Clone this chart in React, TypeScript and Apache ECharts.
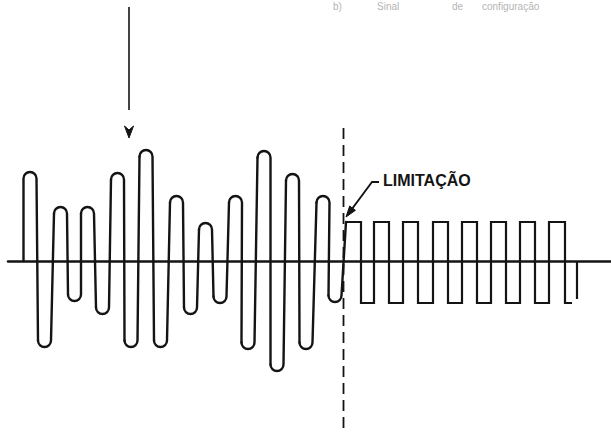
import React, { useEffect, useRef } from "react";
import * as echarts from "echarts";

// Modulated wave: centre x of each half-cycle loop and its peak amplitude (baseline = 0)
const peakX = [30, 44.5, 60.5, 74.5, 87.5, 102.5, 117.5, 131, 146, 160.5, 176.5, 190.5, 205.5, 220, 235.5, 248, 264, 277, 292.5, 306, 323, 335];
const peakAmp = [89, -86, 54, -40, 54, -53, 88, -86, 111, -86, 65, -53, 38, -42, 65, -88, 110, -110, 87, -88, 65, -41];

// Limited (clipped) wave: edge positions and the level after each edge
const limitEdges = [346, 361, 374, 389, 403, 418, 433, 448, 462, 477, 491, 506, 520, 535, 549, 565, 572];
const limitLevels = [39, -42, 39, -42, 39, -42, 39, -42, 39, -42, 39, -42, 39, -42, 39, -42, -42];

// trailing stub after the limited wave
const tailX = [577, 577];
const tailY = [0, -38];

// dashed divider
const dividerX = [343.5, 343.5];
const dividerY = [133, -169];

// marker arrow above the wave
const markerX = 129;
const markerY = [254, 151];
const markerTipY = 123;

const labelText = "LIMITAÇÃO";
const captionWords = ["b)", "Sinal", "de", "configuração"];
const captionX = [333, 377, 452, 482];

const INK = "#141414";
const R = 6.5;

export default function App() {
  const ref = useRef<HTMLDivElement>(null);

  useEffect(() => {
    if (!ref.current) return;
    const chart = echarts.init(ref.current, undefined, { renderer: "svg" });

    const renderItem = (params: any, api: any) => {
      const i = params.dataIndex;
      const [px, py] = api.coord([peakX[i], peakAmp[i]]);
      const up = peakAmp[i] > 0;
      const cy = up ? py + R : py - R;
      let d = "";
      if (i === 0) {
        const by = api.coord([peakX[i], 0])[1];
        d += `M${px - R} ${by} L${px - R} ${cy} `;
      } else {
        d += `M${px - R} ${cy} `;
      }
      d += `A${R} ${R} 0 0 ${up ? 1 : 0} ${px + R} ${cy} `;
      let nx: number, ny: number;
      if (i < peakX.length - 1) {
        const q = api.coord([peakX[i + 1], peakAmp[i + 1]]);
        const nup = peakAmp[i + 1] > 0;
        nx = q[0] - R;
        ny = nup ? q[1] + R : q[1] - R;
      } else {
        const q = api.coord([limitEdges[0], limitLevels[0]]);
        nx = q[0];
        ny = q[1];
      }
      d += `L${nx} ${ny}`;
      return {
        type: "path",
        shape: { pathData: d },
        style: { fill: "none", stroke: INK, lineWidth: 2.4, lineJoin: "round", lineCap: "round" },
      };
    };

    chart.setOption({
      animation: false,
      grid: { left: 8, right: 0, top: 0, bottom: 0, containLabel: false },
      xAxis: {
        type: "value",
        min: 8,
        max: 611,
        axisLine: { show: true, onZero: true, lineStyle: { color: INK, width: 2.5 } },
        axisTick: { show: false },
        axisLabel: { show: false },
        splitLine: { show: false },
      },
      yAxis: {
        type: "value",
        min: -172,
        max: 261,
        axisLine: { show: false },
        axisTick: { show: false },
        axisLabel: { show: false },
        splitLine: { show: false },
      },
      series: [
        {
          type: "custom",
          clip: false,
          renderItem,
          encode: { x: 0, y: 1 },
          data: peakX.map((x, i) => [x, peakAmp[i]]),
          silent: true,
        },
        {
          type: "line",
          step: "end",
          symbol: "none",
          silent: true,
          lineStyle: { color: INK, width: 2.2, join: "miter" },
          data: limitEdges.map((x, i) => [x, limitLevels[i]]),
        },
        {
          type: "line",
          symbol: "none",
          silent: true,
          lineStyle: { color: INK, width: 2.2 },
          data: tailX.map((x, i) => [x, tailY[i]]),
        },
        {
          type: "line",
          symbol: "none",
          silent: true,
          lineStyle: { color: INK, width: 1.8, type: [11, 6] },
          data: dividerX.map((x, i) => [x, dividerY[i]]),
        },
      ],
    });

    const toPx = (x: number, y: number) =>
      chart.convertToPixel({ xAxisIndex: 0, yAxisIndex: 0 }, [x, y]) as number[];

    const mTop = toPx(markerX, markerY[0]);
    const mBot = toPx(markerX, markerY[1]);
    const headL = toPx(markerX - 4.5, markerTipY + 12);
    const headR = toPx(markerX + 4.5, markerTipY + 12);
    const headN = toPx(markerX, markerTipY + 8);
    const headT = toPx(markerX, markerTipY);

    const tip = toPx(limitEdges[0], limitLevels[0] + 5);
    const elbow = toPx(372, 79);
    const leadEnd = toPx(379, 79);
    const dx = tip[0] - elbow[0];
    const dy = tip[1] - elbow[1];
    const len = Math.hypot(dx, dy);
    const ux = dx / len;
    const uy = dy / len;
    const bx = tip[0] - 11 * ux;
    const by = tip[1] - 11 * uy;
    const hw = 3.6;
    const labelPos = toPx(383, 81);

    const captions = captionWords.map((w, i) => ({
      type: "text",
      x: captionX[i],
      y: 1,
      silent: true,
      style: {
        text: w,
        fill: "#b4b4b4",
        font: "10px 'Liberation Sans', Arial, sans-serif",
        textVerticalAlign: "top",
      },
    }));

    chart.setOption({
      graphic: [
        ...captions,
        {
          type: "line",
          silent: true,
          shape: { x1: mTop[0], y1: mTop[1], x2: mBot[0], y2: mBot[1] },
          style: { stroke: INK, lineWidth: 1.6 },
        },
        {
          type: "polygon",
          silent: true,
          shape: { points: [headT, headL, headN, headR] },
          style: { fill: INK, stroke: INK, lineWidth: 1 },
        },
        {
          type: "polyline",
          silent: true,
          shape: { points: [leadEnd, elbow, [bx + 1.5 * ux, by + 1.5 * uy]] },
          style: { stroke: INK, lineWidth: 1.8, fill: "none" },
        },
        {
          type: "polygon",
          silent: true,
          shape: {
            points: [
              tip,
              [bx + hw * uy, by - hw * ux],
              [bx - hw * uy, by + hw * ux],
            ],
          },
          style: { fill: INK, stroke: INK, lineWidth: 1 },
        },
        {
          type: "text",
          x: labelPos[0],
          y: labelPos[1],
          silent: true,
          style: {
            text: labelText,
            fill: INK,
            font: "bold 16px 'Liberation Sans', Arial, sans-serif",
            textVerticalAlign: "middle",
          },
        },
      ],
    });

    return () => chart.dispose();
  }, []);

  return (
    <div
      ref={ref}
      style={{ position: "fixed", left: 0, top: 0, width: 611, height: 433, background: "#fff" }}
    />
  );
}
